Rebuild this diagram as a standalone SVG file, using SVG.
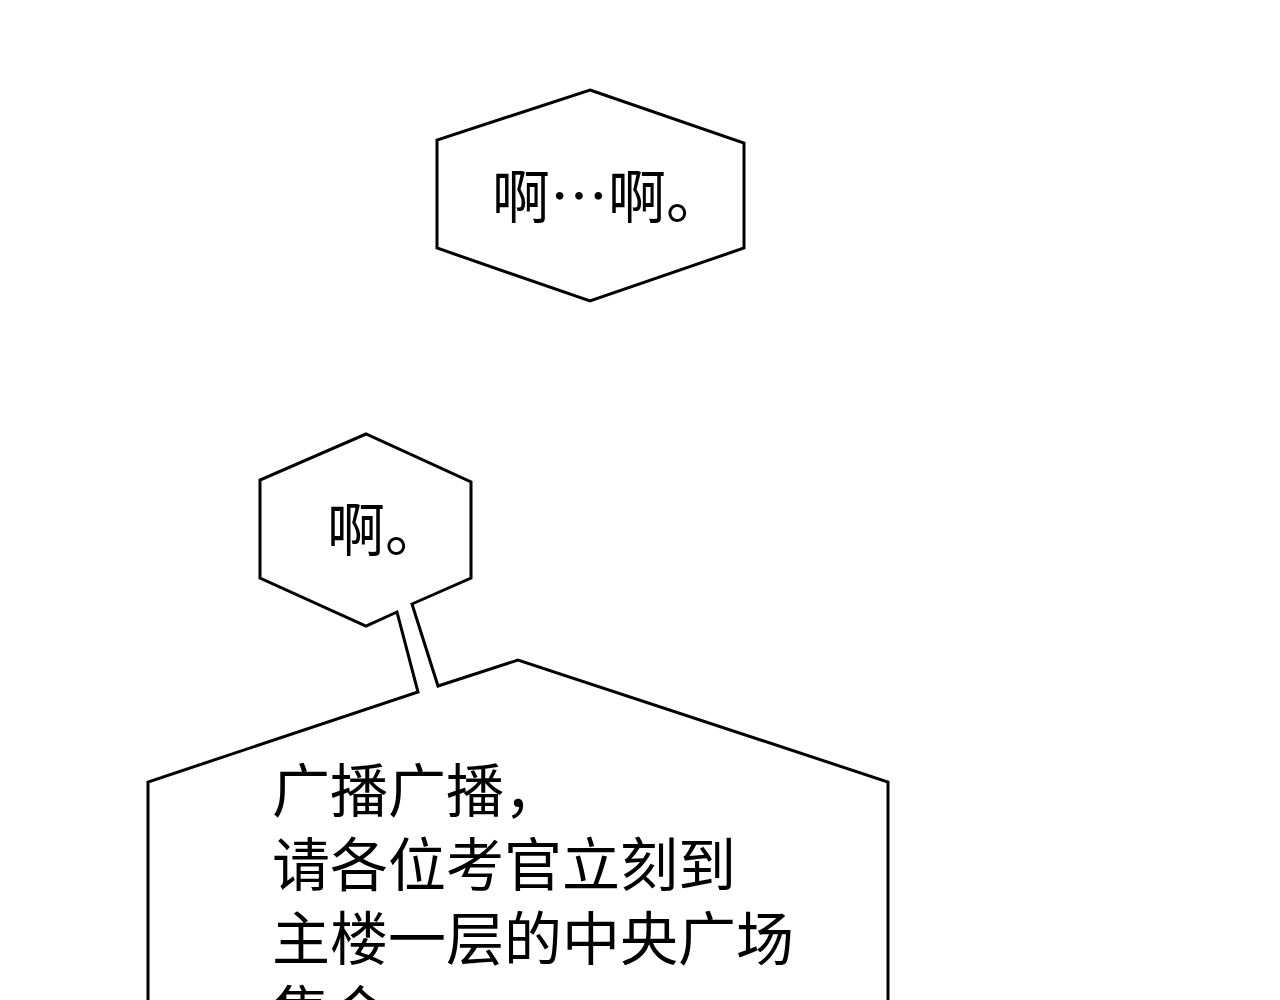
<svg xmlns="http://www.w3.org/2000/svg" width="1280" height="1000" viewBox="0 0 1280 1000">
<style>
.b{fill:#fff;stroke:#000;stroke-width:3;stroke-linejoin:miter}
.t{font-family:"Noto Sans CJK SC","Noto Sans",sans-serif;fill:#000}
</style>
<rect width="1280" height="1000" fill="#fff"/>
<g id="bubble1">
<polygon class="b" points="590,90 744,143 744,248 590,301 437,248 437,140"/>
<text class="t" x="492" y="218" font-size="58">啊…啊。</text>
</g>
<g id="bubble2">
<path class="b" d="M412,604 L471,578 L471,482 L366,434 L260,480 L260,578 L366,626 L397,612 L418,692 L148,782 L148,1010 L888,1010 L888,782 L518,660 L438,686 Z"/>
<text class="t" x="327" y="551" font-size="58">啊。</text>
</g>
<g id="bubble3">
<text class="t" font-size="58">
<tspan x="272" y="812">广播广播，</tspan>
<tspan x="272" y="886">请各位考官立刻到</tspan>
<tspan x="272" y="960">主楼一层的中央广场</tspan>
<tspan x="272" y="1034">集合。</tspan>
</text>
</g>
<g id="connectors"></g>
</svg>
